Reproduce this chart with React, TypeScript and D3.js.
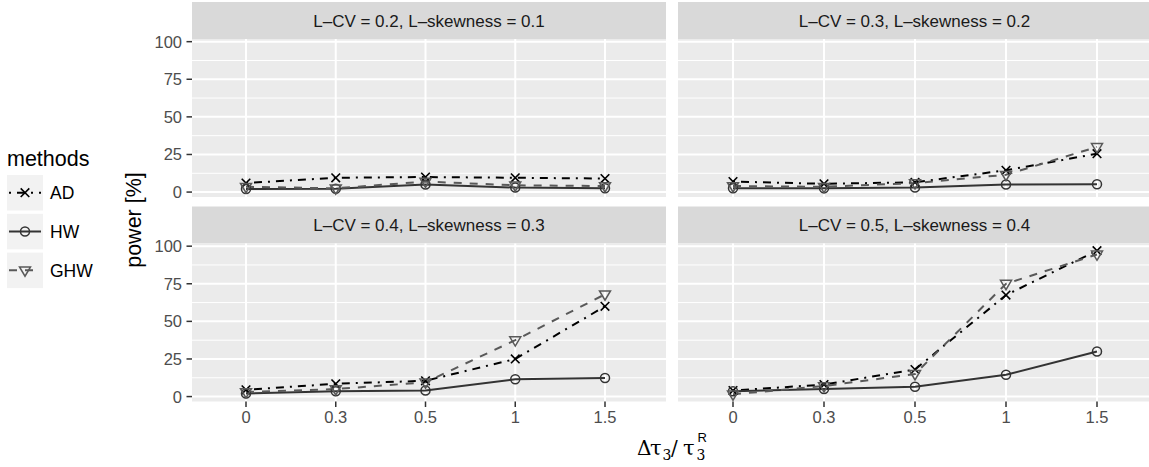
import React from 'react';
import * as d3 from 'd3';

// data
const deltas = ['0', '0.3', '0.5', '1', '1.5'];
const methods = ['AD', 'HW', 'GHW'];
const panelTitles = [
  'L\u2013CV = 0.2, L\u2013skewness = 0.1',
  'L\u2013CV = 0.3, L\u2013skewness = 0.2',
  'L\u2013CV = 0.4, L\u2013skewness = 0.3',
  'L\u2013CV = 0.5, L\u2013skewness = 0.4',
];
const adPower = [
  [6, 9.5, 10, 9.5, 9],
  [7, 5.5, 6.5, 14.5, 25.5],
  [4.5, 8.5, 10.5, 25, 60],
  [4, 8, 18, 67.5, 97],
];
const hwPower = [
  [2, 2.2, 5, 3, 2.5],
  [2.5, 2.5, 3, 5, 5.2],
  [2, 3.5, 4, 11.5, 12.3],
  [3.5, 5, 6.5, 14.5, 30],
];
const ghwPower = [
  [3.5, 2.5, 7, 4.5, 4],
  [4, 3.5, 6, 11.5, 30],
  [3, 5, 9.5, 37.5, 68],
  [1.5, 7, 15, 75, 94.5],
];
const yTicks = [0, 25, 50, 75, 100];
const yMinor = [12.5, 37.5, 62.5, 87.5];

const W = 1149;
const H = 467;
const FONT = '"Liberation Sans", Arial, Helvetica, sans-serif';
const SERIF = '"DejaVu Serif", "Liberation Serif", serif';

const cols = [
  { x0: 192, x1: 666, t0: 246, t1: 605 },
  { x0: 678, x1: 1160, t0: 733, t1: 1097 },
];
const rows = [
  { strip: 2, top: 39, bottom: 197 },
  { strip: 206.5, top: 243.5, bottom: 401.5 },
];

const style: Record<string, { color: string; dash: string }> = {
  AD: { color: '#000000', dash: '2 6 8 6' },
  HW: { color: '#333333', dash: '' },
  GHW: { color: '#595959', dash: '8 8' },
};

function Marker({ m, x, y }: { m: string; x: number; y: number }) {
  const c = style[m].color;
  if (m === 'AD') {
    const s = 4.3;
    return (
      <path
        d={`M${x - s},${y - s}L${x + s},${y + s}M${x - s},${y + s}L${x + s},${y - s}`}
        stroke={c}
        strokeWidth={1.6}
        fill="none"
      />
    );
  }
  if (m === 'HW') {
    return <circle cx={x} cy={y} r={4.5} stroke={c} strokeWidth={1.5} fill="none" />;
  }
  return (
    <path
      d={`M${x - 5.5},${y - 3.4}L${x + 5.5},${y - 3.4}L${x},${y + 5.9}Z`}
      stroke={c}
      strokeWidth={1.5}
      fill="none"
    />
  );
}

export default function App() {
  const series = [adPower, hwPower, ghwPower];
  const all = series.flat(2);
  const [lo, hi] = d3.extent(all) as [number, number];
  const pad = (hi - lo) * 0.05;
  const domain = [lo - pad, hi + pad];

  const panels = panelTitles.map((title, i) => {
    const col = cols[i % 2];
    const row = rows[Math.floor(i / 2)];
    const x = d3.scalePoint<string>().domain(deltas).range([col.t0, col.t1]);
    const y = d3.scaleLinear().domain(domain).range([row.bottom, row.top]);
    return { title, i, col, row, x, y };
  });

  return (
    <svg
      width={W}
      height={H}
      style={{ position: 'absolute', left: 0, top: 0, display: 'block', background: '#fff' }}
      fontFamily={FONT}
    >
      {panels.map(({ title, i, col, row, x, y }) => {
        const line = d3
          .line<number>()
          .x((_, k) => x(deltas[k]) as number)
          .y((v) => y(v));
        return (
          <g key={i}>
            {/* strip */}
            <rect x={col.x0} y={row.strip} width={col.x1 - col.x0} height={row.top - row.strip} fill="#D9D9D9" />
            <text
              x={(col.x0 + Math.min(col.x1, 1151)) / 2}
              y={(row.strip + row.top) / 2 + 6}
              textAnchor="middle"
              fontSize={17}
              fill="#1A1A1A"
            >
              {title}
            </text>
            {/* panel */}
            <rect x={col.x0} y={row.top} width={col.x1 - col.x0} height={row.bottom - row.top} fill="#EBEBEB" />
            {yMinor.map((t) => (
              <line key={'m' + t} x1={col.x0} x2={col.x1} y1={y(t)} y2={y(t)} stroke="#fff" strokeWidth={1} />
            ))}
            {yTicks.map((t) => (
              <line key={'g' + t} x1={col.x0} x2={col.x1} y1={y(t)} y2={y(t)} stroke="#fff" strokeWidth={2} />
            ))}
            {deltas.map((d) => (
              <line key={'v' + d} x1={x(d)} x2={x(d)} y1={row.top} y2={row.bottom} stroke="#fff" strokeWidth={2} />
            ))}
            {/* lines */}
            {methods.map((m, k) => (
              <path
                key={'l' + m}
                d={line(series[k][i]) as string}
                fill="none"
                stroke={style[m].color}
                strokeWidth={2}
                strokeDasharray={style[m].dash || undefined}
              />
            ))}
            {/* points */}
            {methods.map((m, k) =>
              series[k][i].map((v, j) => <Marker key={m + j} m={m} x={x(deltas[j]) as number} y={y(v)} />)
            )}
            {/* y axis on left column */}
            {i % 2 === 0 &&
              yTicks.map((t) => (
                <g key={'yt' + t}>
                  <line x1={col.x0 - 5.5} x2={col.x0} y1={y(t)} y2={y(t)} stroke="#333" strokeWidth={1.5} />
                  <text x={col.x0 - 10} y={y(t) + 6} textAnchor="end" fontSize={16.5} fill="#4D4D4D">
                    {t}
                  </text>
                </g>
              ))}
            {/* x axis on bottom row */}
            {i >= 2 &&
              deltas.map((d) => (
                <g key={'xt' + d}>
                  <line x1={x(d)} x2={x(d)} y1={row.bottom} y2={row.bottom + 5.5} stroke="#333" strokeWidth={1.5} />
                  <text x={x(d)} y={row.bottom + 21.5} textAnchor="middle" fontSize={16.5} fill="#4D4D4D">
                    {d}
                  </text>
                </g>
              ))}
          </g>
        );
      })}

      {/* y axis title */}
      <text transform="translate(141,220) rotate(-90)" textAnchor="middle" fontSize={21.5} fill="#000">
        power [%]
      </text>

      {/* x axis title: Δτ3 / τ3^R */}
      <g fontFamily={SERIF} fill="#000">
        <text x={637} y={455} fontSize={20}>{'\u0394'}</text>
        <text x={650} y={455} fontSize={21}>{'\u03c4'}</text>
        <text x={662.5} y={460} fontSize={14}>3</text>
        <text x={671} y={455} fontSize={20}>/</text>
        <text x={683} y={455} fontSize={21}>{'\u03c4'}</text>
        <text x={696.5} y={460} fontSize={14}>3</text>
        <text x={697.5} y={442} fontSize={13} fontFamily={FONT}>R</text>
      </g>

      {/* legend */}
      <text x={7} y={166} fontSize={21.5} fill="#000">methods</text>
      {methods.map((m, k) => {
        const ky = 175 + k * 38.8;
        const cy = ky + 17.7;
        return (
          <g key={'lg' + m}>
            <rect x={7} y={ky} width={36} height={35.5} fill="#F2F2F2" />
            <line
              x1={9}
              x2={41}
              y1={cy}
              y2={cy}
              stroke={style[m].color}
              strokeWidth={2}
              strokeDasharray={style[m].dash || undefined}
            />
            <Marker m={m} x={25} y={cy} />
            <text x={50} y={cy + 6.5} fontSize={17.5} fill="#000">
              {m}
            </text>
          </g>
        );
      })}
    </svg>
  );
}
